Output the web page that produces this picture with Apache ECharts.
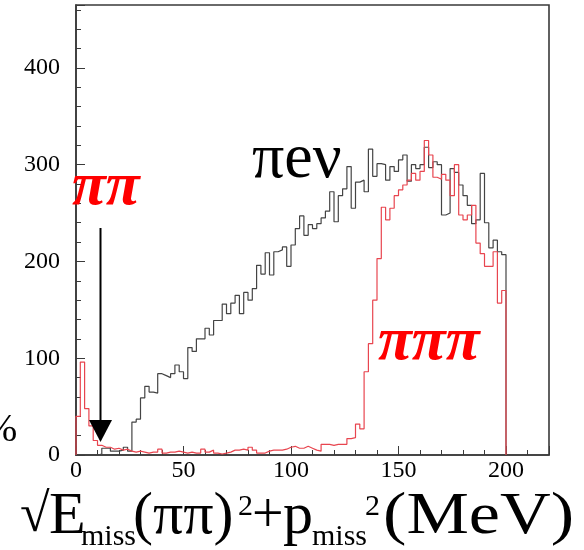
<!DOCTYPE html>
<html>
<head>
<meta charset="utf-8">
<script src="https://cdn.jsdelivr.net/npm/echarts@6/dist/echarts.min.js"></script>
<style>
html,body{margin:0;padding:0;background:#fff;}
#chart{width:584px;height:550px;}
</style>
</head>
<body>
<div id="chart"></div>
<script>
// ---- data ----
const binWidth = 2; // MeV per bin, bins start at 0
const xTickLabels = [0, 50, 100, 150, 200];
const yTickLabels = [0, 100, 200, 300, 400];
// pi e nu histogram (black)
const piEnuCounts = [
  0, 0, 0, 0, 0, 1, 7, 7, 4, 4,
  5, 8, 4, 34, 37, 59, 71, 65, 64, 84,
  82, 80, 84, 93, 86, 79, 111, 107, 120, 120,
  131, 124, 139, 139, 156, 146, 157, 165, 146, 168,
  160, 172, 196, 187, 209, 186, 210, 212, 215, 195,
  217, 234, 247, 227, 238, 234, 239, 245, 252, 272,
  241, 268, 275, 298, 255, 282, 284, 272, 316, 288,
  301, 300, 284, 298, 293, 305, 310, 283, 300, 296,
  300, 318, 297, 303, 300, 248, 250, 296, 292, 279,
  268, 258, 239, 243, 291, 240, 214, 222, 210, 207
];
// pi pi (pi) histogram (red)
const pipiCounts = [
  40, 96, 48, 30, 15, 10, 8, 8, 6, 7,
  5, 6, 4, 3, 4, 3, 2, 3, 3, 6,
  2, 3, 3, 4, 3, 2, 3, 2, 2, 6,
  3, 5, 2, 1, 2, 3, 5, 5, 6, 5,
  8, 5, 2, 2, 4, 5, 5, 5, 6, 8,
  9, 7, 7, 9, 7, 5, 4, 11, 11, 10,
  11, 11, 11, 17, 18, 32, 27, 86, 115, 160,
  203, 256, 243, 255, 268, 274, 279, 284, 291, 284,
  293, 325, 310, 287, 285, 290, 284, 268, 300, 248,
  243, 248, 258, 219, 208, 195, 195, 210, 157, 170
];

function toSteps(counts) {
  const pts = [[0, 0]];
  counts.forEach((v, i) => pts.push([i * binWidth, v]));
  pts.push([counts.length * binWidth, 0]);
  return pts;
}

const serif = '"Liberation Serif", "Times New Roman", serif';
const chart = echarts.init(document.getElementById('chart'), null, {renderer: 'canvas'});

const tickColor = '#3a3a3a';
function txt(x, y, text, size, opts) {
  opts = opts || {};
  return {
    type: 'text', x: x, y: y, scaleX: opts.sx || 1, z: 10,
    style: {
      text: text, font: (opts.weight || '') + ' ' + size + 'px ' + serif,
      fill: opts.fill || '#000', textVerticalAlign: 'middle', textAlign: opts.align || 'left'
    }
  };
}
const option = {
  animation: false,
  backgroundColor: '#ffffff',
  grid: {
    left: 76, right: 35, top: 5, bottom: 95,
    show: true, borderColor: tickColor, borderWidth: 1.6, backgroundColor: 'transparent'
  },
  xAxis: [
    {
      type: 'value', min: 0, max: 220, interval: 50, position: 'bottom',
      axisLine: {show: true, lineStyle: {color: tickColor, width: 1.6}},
      axisTick: {show: true, inside: true, length: 9, lineStyle: {color: tickColor, width: 1}},
      axisLabel: {
        show: true, margin: 4, color: '#000', fontFamily: 'Liberation Serif', fontSize: 24,
        formatter: v => (xTickLabels.indexOf(v) >= 0 ? String(v) : '')
      },
      splitLine: {show: false}
    },
    {
      type: 'value', min: 0, max: 220, interval: 10, position: 'bottom',
      axisLine: {show: false},
      axisTick: {show: true, inside: true, length: 5, lineStyle: {color: tickColor, width: 1}},
      axisLabel: {show: false},
      splitLine: {show: false}
    }
  ],
  yAxis: [
    {
      type: 'value', min: 0, max: 465, interval: 100, position: 'left',
      axisLine: {show: true, lineStyle: {color: tickColor, width: 1.6}},
      axisTick: {show: true, inside: true, length: 9, lineStyle: {color: tickColor, width: 1}},
      axisLabel: {
        show: true, margin: 16, color: '#000', fontFamily: 'Liberation Serif', fontSize: 24,
        formatter: v => (yTickLabels.indexOf(v) >= 0 ? String(v) : '')
      },
      splitLine: {show: false}
    },
    {
      type: 'value', min: 0, max: 465, interval: 20, position: 'left',
      axisLine: {show: false},
      axisTick: {show: true, inside: true, length: 5, lineStyle: {color: tickColor, width: 1}},
      axisLabel: {show: false},
      splitLine: {show: false}
    }
  ],
  series: [
    {
      name: 'πeν', type: 'line', step: 'end', xAxisIndex: 0, yAxisIndex: 0,
      data: toSteps(piEnuCounts), showSymbol: false, symbol: 'none',
      lineStyle: {color: '#444444', width: 1.2}, z: 3
    },
    {
      name: 'ππ', type: 'line', step: 'end', xAxisIndex: 0, yAxisIndex: 0,
      data: toSteps(pipiCounts), showSymbol: false, symbol: 'none',
      lineStyle: {color: '#e8454f', width: 1.2}, z: 4
    }
  ],
  graphic: [
    // arrow
    {type: 'line', shape: {x1: 100.5, y1: 228, x2: 100.5, y2: 424}, style: {stroke: '#000', lineWidth: 2}, z: 10},
    {type: 'polygon', shape: {points: [[89, 420], [112, 420], [100.5, 442]]}, style: {fill: '#000'}, z: 10},
    // annotations
    txt(252, 160, 'πeν', 64),
    txt(72, 188, 'ππ', 62, {weight: 'italic bold', fill: '#ff0000'}),
    txt(378, 343, 'πππ', 62, {weight: 'italic bold', fill: '#ff0000'}),
    txt(-16, 430, '%', 40),
    // x-axis title pieces
    txt(20, 517, '√', 54),
    txt(49, 517, 'E', 60),
    txt(81, 537, 'miss', 30),
    txt(133, 517, '(ππ)', 60),
    txt(238, 507, '2', 30),
    txt(252, 517, '+', 56),
    txt(283, 517, 'p', 60),
    txt(312, 537, 'miss', 30),
    txt(365, 507, '2', 30),
    txt(383, 517, '(MeV)', 60, {sx: 1.17})
  ]
};
chart.setOption(option);
</script>
</body>
</html>
